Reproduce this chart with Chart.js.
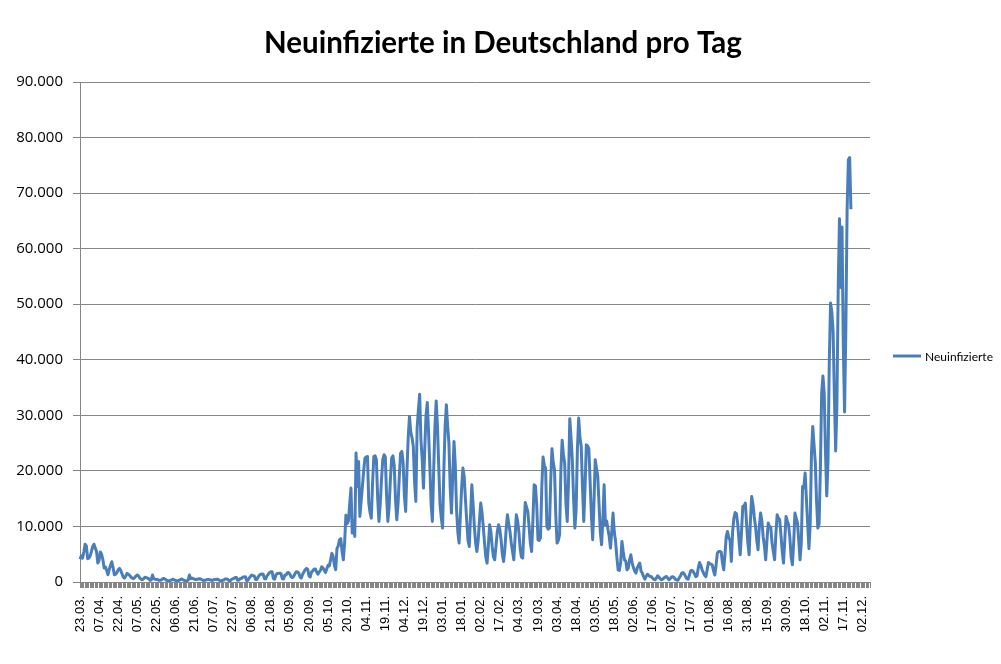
<!DOCTYPE html>
<html>
<head>
<meta charset="utf-8">
<script src="https://cdn.jsdelivr.net/npm/chart.js@4.4.0/dist/chart.umd.min.js"></script>
<style>
  html, body { margin: 0; padding: 0; background: #fff; }
  #wrap { width: 1001px; height: 664px; }
</style>
</head>
<body>
<div id="wrap"><canvas id="chart" width="1001" height="664"></canvas></div>
<script>
// Achsenbeschriftung (jeder 15. Tag)
const tickLabels = [
  "23.03.", "07.04.", "22.04.", "07.05.", "22.05.", "06.06.", "21.06.", "07.07.", "22.07.", "06.08.",
  "21.08.", "05.09.", "20.09.", "05.10.", "20.10.", "04.11.", "19.11.", "04.12.", "19.12.", "03.01.",
  "18.01.", "02.02.", "17.02.", "04.03.", "19.03.", "03.04.", "18.04.", "03.05.", "18.05.", "02.06.",
  "17.06.", "02.07.", "17.07.", "01.08.", "16.08.", "31.08.", "15.09.", "30.09.", "18.10.", "02.11.",
  "17.11.", "02.12."
];

// Neuinfizierte pro Tag
const neuinfizierte = [
  4100, 4700, 4300, 5400, 6800, 6500, 4200,
  4300, 4700, 5500, 6400, 6800, 6100, 5500,
  3400, 3900, 5400, 5000, 4000, 2500, 2700,
  2000, 1300, 2300, 3000, 3650, 2600, 1300,
  1400, 1700, 2200, 2450, 2100, 1500, 900,
  700, 1100, 1550, 1400, 1200, 900, 700,
  600, 800, 1100, 1250, 1100, 700, 500,
  400, 600, 840, 800, 700, 600, 300,
  400, 1250, 600, 500, 460, 450, 300,
  300, 350, 600, 650, 500, 300, 250,
  200, 300, 350, 500, 400, 300, 200,
  250, 300, 450, 550, 400, 300, 200,
  200, 350, 1250, 600, 700, 600, 500,
  450, 500, 550, 600, 500, 400, 250,
  300, 350, 450, 450, 400, 350, 250,
  400, 450, 450, 500, 400, 250,
  150, 300, 350, 550, 550, 500, 250,
  200, 450, 550, 650, 800, 800, 300,
  350, 650, 650, 900, 900, 950, 250,
  300, 700, 1000, 1250, 1150, 1100, 450,
  450, 900, 1200, 1400, 1450, 1400, 600,
  560, 1100, 1400, 1700, 1850, 1850, 650,
  500, 1250, 1550, 1550, 1600, 1500, 600,
  550, 1200, 1250, 1650, 1700, 1400, 900,
  800, 1000, 1500, 1850, 1800, 1600, 900,
  700, 1400, 1800, 2200, 2450, 2300, 1100,
  900, 1800, 2000, 2300, 2350, 1800, 1400,
  1800, 2100, 2750, 2500, 2100, 1700, 2400,
  3000, 2900, 4000, 5150, 4600, 3000, 2200,
  6000, 6500, 7600, 7800, 5500, 4000, 7000,
  12000, 10500, 11000, 14000, 16900, 8800, 11000,
  8200, 23200, 17200, 21700, 11800, 14500, 17200,
  20000, 22300, 22500, 22600, 14200, 12500, 11500,
  18000, 22600, 22700, 22000, 15000, 10900, 14000,
  18500, 22000, 22900, 22500, 15500, 10900, 13500,
  18500, 22300, 22700, 21000, 15000, 11200, 14000,
  19000, 23200, 23500, 21500, 15500, 12700, 20000,
  26000, 29800, 27000, 26000, 24400, 18000, 14500,
  27700, 31000, 33800, 25600, 22000, 16900, 24000,
  30000, 32300, 27000, 20800, 14000, 10900, 20000,
  28000, 32600, 28000, 20800, 14000, 11500, 9700,
  20000, 28000, 31900, 28000, 25000, 17000, 12400,
  19000, 25300, 21000, 13000, 9000, 7000, 12000,
  17000, 20500, 19000, 14800, 11000, 7500, 6400,
  12000, 17500, 14000, 10000, 7000, 5500, 7500,
  11000, 14200, 12500, 10000, 7000, 4500, 3400,
  6500, 10300, 9000, 6400, 4500, 4000, 6500,
  9000, 10300, 9500, 7600, 5000, 3700, 6000,
  9500, 12100, 10500, 9100, 7000, 5500, 4000,
  8000, 12100, 11000, 9000, 6000, 4500, 4300,
  9500, 14300, 13500, 12700, 10000, 7000, 5500,
  11000, 17500, 17300, 14000, 7600, 7500, 8000,
  17000, 22500, 21000, 20500, 10000, 9500, 9700,
  18000, 24000, 21500, 20200, 12000, 7000, 7500,
  8500, 20000, 25500, 23000, 21400, 14000, 10900,
  18000, 29400, 26000, 22000, 15000, 9700, 13000,
  24000, 29500, 26000, 24400, 17000, 10900, 17000,
  24700, 24500, 24000, 18000, 12000, 7600, 14000,
  22000, 20500, 19000, 14000, 9000, 6700, 11000,
  17500, 10300, 11000, 9500, 8200, 6100, 9000,
  12400, 9000, 7300, 4500, 2200, 2100, 3500,
  7300, 5500, 4000, 3800, 2200, 2500, 4000,
  4900, 3500, 2600, 2000, 1600, 2500, 3000,
  3400, 2000, 1600, 1000, 500, 1000, 1400,
  1200, 1000, 1000, 700, 500, 400, 700,
  1100, 900, 600, 400, 500, 700, 900,
  1000, 700, 400, 600, 900, 950, 800,
  500, 350, 300, 700, 1100, 1600, 1700,
  1450, 1000, 600, 500, 1200, 2000, 2100,
  1900, 1500, 950, 1100, 2500, 3500, 3000,
  2200, 1700, 1200, 950, 2200, 3500, 3300,
  3200, 3100, 2000, 1250, 3000, 5200, 5500,
  5500, 5400, 3500, 2200, 5000, 8200, 9100,
  8000, 7500, 3700, 9000, 11500, 12500, 12300,
  10500, 7500, 4900, 9000, 13600, 13700, 14200,
  10500, 7000, 4900, 11000, 15400, 14000, 11800,
  10000, 7500, 5800, 10000, 12400, 11000, 8200,
  6500, 4000, 7500, 10600, 10000, 9900, 7000,
  5500, 4000, 8500, 12100, 11500, 11200, 8500,
  5500, 3400, 7500, 11800, 11000, 10300, 8000,
  4500, 3100, 7000, 12400, 11500, 10600, 7500,
  4000, 7000, 17200, 17000, 19600, 15000, 10500,
  6000, 10500, 23200, 28000, 24700, 21500, 14500,
  9700, 10500, 20400, 34000, 37100, 34000, 23500,
  15500, 21800, 39700, 50200, 48600, 45100, 33500,
  23600, 32000, 52800, 65400, 53000, 63900, 42700,
  30600, 45300, 66900, 76000, 76400, 67100
];

// Achse läuft noch ein paar leere Tage weiter
const totalDays = 622;

const labels = [];
for (let i = 0; i < totalDays; i++) labels.push(i);
const series = labels.map(i => i < neuinfizierte.length ? neuinfizierte[i] : null);

function formatDe(v) {
  return String(v).replace(/\B(?=(\d{3})+(?!\d))/g, ".");
}

const lineColor = "#4a7ebb";
const gridColor = "#868686";

const extras = {
  id: "extras",
  afterDraw(chart) {
    const ctx = chart.ctx;
    ctx.save();
    ctx.fillStyle = "#000";
    ctx.font = "bold 29.5px Lato";
    ctx.textAlign = "center";
    ctx.textBaseline = "alphabetic";
    ctx.fillText("Neuinfizierte in Deutschland pro Tag", 503, 53);

    // Legende rechts
    ctx.strokeStyle = lineColor;
    ctx.lineWidth = 3;
    ctx.beginPath();
    ctx.moveTo(893, 356);
    ctx.lineTo(921, 356);
    ctx.stroke();
    ctx.font = "12px Lato";
    ctx.textAlign = "left";
    ctx.textBaseline = "middle";
    ctx.fillText("Neuinfizierte", 925, 357);
    ctx.restore();
  }
};

new Chart(document.getElementById("chart"), {
  type: "line",
  data: {
    labels: labels,
    datasets: [{
      label: "Neuinfizierte",
      data: series,
      borderColor: lineColor,
      backgroundColor: lineColor,
      borderWidth: 3,
      pointRadius: 0,
      tension: 0,
      fill: false,
      borderJoinStyle: "round"
    }]
  },
  options: {
    responsive: false,
    animation: false,
    devicePixelRatio: 1,
    layout: { padding: { top: 82, right: 131, left: 0, bottom: 0 } },
    plugins: {
      legend: { display: false },
      tooltip: { enabled: false }
    },
    scales: {
      x: {
        type: "category",
        offset: false,
        grid: { display: true, drawOnChartArea: false, drawTicks: true, tickLength: 6, color: gridColor },
        border: { color: gridColor, width: 1 },
        ticks: {
          autoSkip: false,
          maxRotation: 90,
          minRotation: 90,
          padding: 8,
          color: "#000",
          font: { family: "Liberation Sans", size: 13 },
          callback: (v, i) => (i % 15 === 0 ? tickLabels[i / 15] : "")
        },
        afterFit: s => { s.height = 82; }
      },
      y: {
        min: 0,
        max: 90000,
        grid: { color: gridColor, tickLength: 7 },
        border: { color: gridColor, width: 1 },
        ticks: {
          stepSize: 10000,
          padding: 10,
          color: "#000",
          font: { family: "Open Sans", size: 15 },
          callback: v => formatDe(v)
        },
        afterFit: s => { s.width = 80; }
      }
    }
  },
  plugins: [extras]
});
</script>
</body>
</html>
